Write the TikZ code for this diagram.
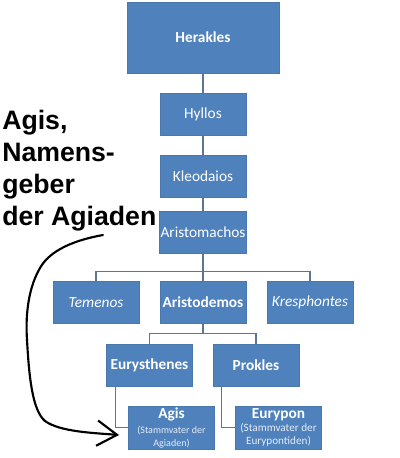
\documentclass[tikz,border=0pt]{standalone}
\usepackage{fontspec}
\setmainfont{Carlito}
\newfontfamily\handfont{Liberation Sans}
\usetikzlibrary{arrows.meta}
\definecolor{boxblue}{HTML}{4F81BD}
\definecolor{boxedge}{HTML}{4A78AD}
\definecolor{linkgray}{HTML}{5C7590}
\definecolor{subwhite}{HTML}{E4ECF6}
\newcommand{\subline}{\fontsize{7.5}{9.75}\selectfont\color{subwhite}}
\newcommand{\subwide}{\fontsize{8.4}{10}\selectfont\color{subwhite}}

\begin{document}
\begin{tikzpicture}[x=0.75pt,y=-0.75pt,
        member/.style={draw=boxedge, fill=boxblue, text=white, minimum width=64.5pt, minimum height=31.5pt, inner sep=1pt, align=center, font=\fontsize{11.5}{13}\selectfont},
        link/.style={draw=linkgray, line width=0.9pt},
        hand/.style={black, line width=1.6pt, line cap=round, line join=round}
    ]
        \useasboundingbox (0,0) rectangle (400,458);

        \node[member, minimum width=114pt, minimum height=53pt] (herakles) at (203,37.5) {\textbf{Herakles}};
        \node[member] (hyllos) at (203,114) {Hyllos};
        \node[member] (kleodaios) at (203,176.5) {Kleodaios};
        \node[member] (aristomachos) at (203,232) {Aristomachos};
        \node[member] (temenos) at (96,302.5) {\textit{Temenos}};
        \node[member] (aristodemos) at (203,302.5) {\textbf{Aristodemos}};
        \node[member] (kresphontes) at (310,302.5) {\textit{Kresphontes}};
        \node[member] (eurysthenes) at (149.5,365) {\textbf{Eurysthenes}};
        \node[member] (prokles) at (256,365) {\textbf{Prokles}};
        \node[member, minimum height=32.5pt] (agis) at (171.5,427.5) {\textbf{Agis}\\[-1.5pt]\subline (Stammvater der\\[-3.5pt]\subline Agiaden)};
        \node[member, minimum height=32.5pt] (eurypon) at (278.5,427.5) {\textbf{Eurypon}\\[-3pt]\subwide (Stammvater der\\[-3.5pt]\subwide Eurypontiden)};

        \node[anchor=north west, inner sep=0pt, align=left, font=\handfont\bfseries\fontsize{20}{24}\selectfont] (namensgeber) at (2,110) {Agis,\\Namens-\\geber\\der Agiaden};

        \draw[link] (herakles) -- (hyllos);
        \draw[link] (hyllos) -- (kleodaios);
        \draw[link] (kleodaios) -- (aristomachos);
        \draw[link] (aristomachos.south) -- ++(0,18) -| (temenos.north);
        \draw[link] (aristomachos.south) -- (aristodemos.north);
        \draw[link] (aristomachos.south) -- ++(0,18) -| (kresphontes.north);
        \draw[link] (aristodemos.south) -- ++(0,10) -| (eurysthenes.north);
        \draw[link] (aristodemos.south) -- ++(0,10) -| (prokles.north);
        \draw[link] ([xshift=6.75pt]eurysthenes.south west) |- (agis.west);
        \draw[link] ([xshift=6.75pt]prokles.south west) |- (eurypon.west);

        % hand drawn arrow
        \coordinate (start) at (103,235);
        \coordinate (tip) at (119,435);
        \draw[hand, -{Straight Barb[length=15pt,width=19pt]}] (start) .. controls (75,240) and (50,250) .. (40,268) .. controls (30,285) and (25,310) .. (27,340) .. controls (29,375) and (32,410) .. (45,421) .. controls (60,432) and (95,433) .. (tip);
    \end{tikzpicture}
\end{document}
